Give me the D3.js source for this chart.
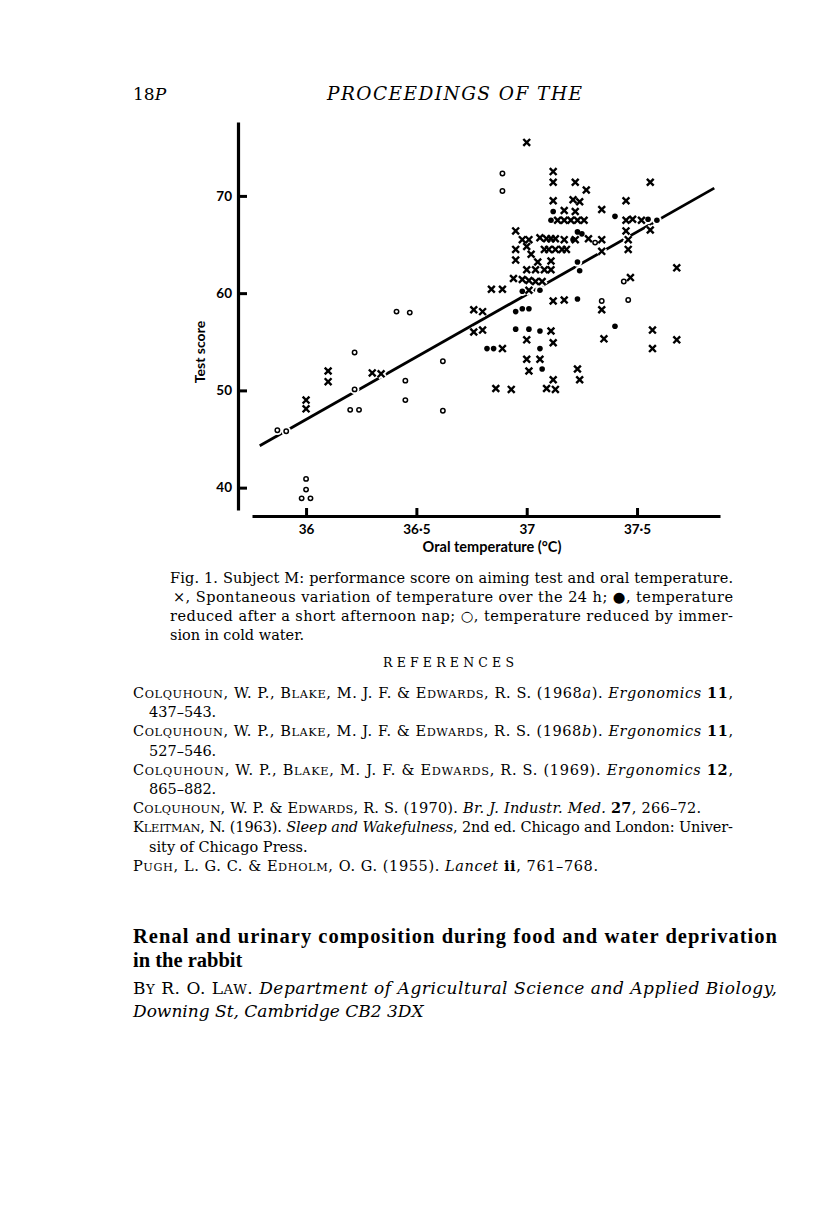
<!DOCTYPE html>
<html>
<head>
<meta charset="utf-8">
<script src="https://cdn.jsdelivr.net/npm/d3@7"></script>
<style>
  body { margin: 0; background: #fff; }
</style>
</head>
<body>
<div id="page"></div>
<script>
"use strict";
// spontaneous variation over the 24 h  (x)
const spontaneous = [
  [36.00, 49.0], [36.00, 48.1], [36.10, 52.0], [36.10, 50.9], [36.30, 51.8], [36.34, 51.7],
  [36.76, 58.3], [36.80, 58.1], [36.76, 56.0], [36.80, 56.2],
  [36.89, 54.3], [37.00, 55.2], [37.11, 56.1], [37.12, 54.9], [37.00, 53.2], [37.06, 53.2], [37.01, 52.0],
  [36.86, 50.2], [36.93, 50.1], [37.09, 50.2], [37.13, 50.1], [37.12, 51.1], [37.23, 52.2], [37.24, 51.1],
  [37.34, 58.3], [37.35, 55.3], [37.57, 56.2], [37.57, 54.3], [37.68, 55.2], [37.68, 62.6], [37.47, 61.6],
  [37.12, 59.2], [37.17, 59.3], [37.01, 60.3], [36.84, 60.4], [36.89, 60.4],
  [36.94, 61.5], [36.98, 61.4], [37.01, 61.3], [37.04, 61.2], [37.07, 61.2],
  [37.00, 62.4], [37.04, 62.4], [37.08, 62.4], [37.11, 62.4],
  [36.95, 63.4], [37.05, 63.2], [37.11, 63.3],
  [36.95, 64.5], [37.00, 64.8], [37.02, 64.0], [37.08, 64.5], [37.10, 64.5], [37.13, 64.5],
  [37.16, 64.5], [37.18, 64.5], [37.34, 64.3], [37.46, 64.5],
  [36.95, 66.4], [36.98, 65.5], [37.01, 65.5], [37.06, 65.7], [37.09, 65.6], [37.11, 65.6],
  [37.13, 65.6], [37.17, 65.5], [37.22, 65.5], [37.28, 65.6], [37.34, 65.5], [37.46, 65.5],
  [37.14, 67.5], [37.17, 67.5], [37.20, 67.5], [37.23, 67.5], [37.26, 67.5],
  [37.17, 68.5], [37.22, 68.4],
  [37.12, 69.5], [37.21, 69.6], [37.24, 69.4],
  [37.12, 72.5], [37.12, 71.4], [37.22, 71.4], [37.27, 70.6],
  [37.00, 75.5], [37.56, 71.4], [37.34, 68.6], [37.45, 69.5],
  [37.45, 67.5], [37.48, 67.6], [37.52, 67.5],
  [37.45, 66.4], [37.56, 66.5]
];
// reduced after afternoon nap  (filled)
const nap = [
  [36.95, 58.1], [36.98, 58.4], [37.01, 58.4], [36.95, 56.3], [37.01, 56.3], [37.06, 56.1],
  [36.82, 54.3], [36.85, 54.3], [37.06, 54.3], [37.07, 52.2], [36.98, 60.2], [37.06, 60.3],
  [37.23, 59.4], [37.40, 56.6], [37.23, 63.2], [37.24, 62.3], [37.21, 65.5], [37.23, 66.3],
  [37.25, 66.1], [37.12, 68.4], [37.11, 67.5], [37.40, 67.9], [37.55, 67.6], [37.59, 67.5]
];
// reduced by immersion in cold water  (open)
const immersion = [
  [35.87, 45.9], [35.91, 45.8], [36.00, 40.9], [36.00, 39.8], [35.98, 38.9], [36.02, 38.9],
  [36.22, 53.9], [36.22, 50.1], [36.20, 48.0], [36.24, 48.0], [36.41, 58.1], [36.47, 58.0],
  [36.45, 51.0], [36.45, 49.0], [36.62, 53.0], [36.62, 47.9], [36.89, 72.3], [36.89, 70.5],
  [37.31, 65.2], [37.44, 61.2], [37.34, 59.2], [37.46, 59.3]
];
const fitLine = [[35.79, 44.3], [37.85, 70.8]];

const xTicks = [36, 36.5, 37, 37.5];
const xTickLabels = ["36", "36·5", "37", "37·5"];
const yTicks = [40, 50, 60, 70];

const width = 816;
const height = 1212;

const svg = d3.select("#page").append("svg")
  .attr("width", width)
  .attr("height", height)
  .style("background", "#fff");

const x = d3.scaleLinear().domain([35.755, 37.876]).range([252, 720]);
const y = d3.scaleLinear().domain([37.7, 77.6]).range([510, 122]);

const axisFont = "Lato, 'DejaVu Sans', sans-serif";

// axes
const gx = svg.append("g")
  .attr("transform", "translate(0,516)")
  .call(d3.axisBottom(x).tickValues(xTicks).tickFormat((d, i) => xTickLabels[i])
    .tickSizeInner(-8).tickSizeOuter(0).tickPadding(8));
const gy = svg.append("g")
  .attr("transform", "translate(238,0)")
  .call(d3.axisLeft(y).tickValues(yTicks).tickFormat(d3.format("d"))
    .tickSizeInner(-9).tickSizeOuter(0).tickPadding(6));

[gx, gy].forEach(g => {
  g.select(".domain").attr("stroke", "#000").attr("stroke-width", 3.2);
  g.selectAll(".tick line").attr("stroke", "#000").attr("stroke-width", 3);
  g.selectAll(".tick text")
    .attr("fill", "#000")
    .style("font-family", axisFont)
    .style("font-weight", "bold")
    .style("font-size", "13.5px");
});

svg.append("text")
  .attr("transform", "translate(205,352) rotate(-90)")
  .attr("text-anchor", "middle")
  .style("font-family", axisFont)
  .style("font-weight", "bold")
  .style("font-size", "14px")
  .text("Test score");

svg.append("text")
  .attr("x", 492).attr("y", 552)
  .attr("text-anchor", "middle")
  .style("font-family", axisFont)
  .style("font-weight", "bold")
  .style("font-size", "14.5px")
  .text("Oral temperature (°C)");

// regression line
svg.append("path")
  .datum(fitLine)
  .attr("d", d3.line().x(d => x(d[0])).y(d => y(d[1])))
  .attr("stroke", "#000")
  .attr("stroke-width", 2.8)
  .attr("fill", "none");

const crossPath = "M-3.4,-3.4L3.4,3.4M-3.4,3.4L3.4,-3.4";

// white halos so the line is broken under the points
const halo = svg.append("g");
halo.selectAll("path").data(spontaneous).join("path")
  .attr("transform", d => `translate(${x(d[0])},${y(d[1])})`)
  .attr("d", crossPath).attr("stroke", "#fff").attr("stroke-width", 6);
halo.selectAll("circle").data(nap.concat(immersion)).join("circle")
  .attr("cx", d => x(d[0])).attr("cy", d => y(d[1])).attr("r", 4.8)
  .attr("fill", "#fff");

svg.append("g").selectAll("path").data(spontaneous).join("path")
  .attr("transform", d => `translate(${x(d[0])},${y(d[1])})`)
  .attr("d", crossPath)
  .attr("stroke", "#000")
  .attr("stroke-width", 2.4);

svg.append("g").selectAll("circle").data(nap).join("circle")
  .attr("cx", d => x(d[0])).attr("cy", d => y(d[1]))
  .attr("r", 2.8)
  .attr("fill", "#000");

svg.append("g").selectAll("circle").data(immersion).join("circle")
  .attr("cx", d => x(d[0])).attr("cy", d => y(d[1]))
  .attr("r", 2.2)
  .attr("fill", "#fff")
  .attr("stroke", "#000")
  .attr("stroke-width", 1.5);

// ---- page text ----
const serif = "'DejaVu Serif', serif";

// small caps: first letter full size, rest smaller capitals
const sc = w => [{ t: w[0] }, { t: w.slice(1).toUpperCase(), size: 0.78 }];
const it = t => ({ t: t, style: "italic" });
const bd = t => ({ t: t, weight: "bold" });

function textLine(px, py, segs, opts) {
  const el = svg.append("text")
    .attr("x", px).attr("y", py)
    .style("font-family", opts.family || serif)
    .style("font-size", opts.size + "px")
    .style("font-style", opts.style || "normal")
    .style("font-weight", opts.weight || "normal");
  if (opts.length) el.attr("textLength", opts.length).attr("lengthAdjust", "spacing");
  if (opts.anchor) el.attr("text-anchor", opts.anchor);
  segs.flat().forEach(s => {
    const seg = typeof s === "string" ? { t: s } : s;
    const sp = el.append("tspan").text(seg.t);
    if (seg.size) sp.style("font-size", (opts.size * seg.size) + "px");
    if (seg.style) sp.style("font-style", seg.style);
    if (seg.weight) sp.style("font-weight", seg.weight);
  });
  return el;
}

textLine(133, 100, ["18", it("P")], { size: 17 });
textLine(327, 100, ["PROCEEDINGS OF THE"], { size: 18.5, style: "italic", length: 255 });

const captionLines = [
  "Fig. 1. Subject M: performance score on aiming test and oral temperature.",
  "×, Spontaneous variation of temperature over the 24 h; ●, temperature",
  "reduced after a short afternoon nap; ○, temperature reduced by immer-",
  "sion in cold water."
];
captionLines.forEach((l, i) => {
  textLine(i === 1 ? 173 : 170, 583 + i * 19, [l], { size: 14.5, length: i < 3 ? (i === 1 ? 560 : 563) : null });
});

textLine(383, 667, ["REFERENCES"], { size: 12.5, length: 131 });

const refLines = [
  { x: 133, s: [sc("Colquhoun"), ", W. P., ", sc("Blake"), ", M. J. F. & ", sc("Edwards"), ", R. S. (1968", it("a"), "). ", it("Ergonomics"), " ", bd("11"), ","], len: 600 },
  { x: 149, s: ["437–543."] },
  { x: 133, s: [sc("Colquhoun"), ", W. P., ", sc("Blake"), ", M. J. F. & ", sc("Edwards"), ", R. S. (1968", it("b"), "). ", it("Ergonomics"), " ", bd("11"), ","], len: 600 },
  { x: 149, s: ["527–546."] },
  { x: 133, s: [sc("Colquhoun"), ", W. P., ", sc("Blake"), ", M. J. F. & ", sc("Edwards"), ", R. S. (1969). ", it("Ergonomics"), " ", bd("12"), ","], len: 600 },
  { x: 149, s: ["865–882."] },
  { x: 133, s: [sc("Colquhoun"), ", W. P. & ", sc("Edwards"), ", R. S. (1970). ", it("Br. J. Industr. Med."), " ", bd("27"), ", 266–72."], len: 568 },
  { x: 133, s: [sc("Kleitman"), ", N. (1963). ", it("Sleep and Wakefulness"), ", 2nd ed. Chicago and London: Univer-"], len: 600 },
  { x: 149, s: ["sity of Chicago Press."] },
  { x: 133, s: [sc("Pugh"), ", L. G. C. & ", sc("Edholm"), ", O. G. (1955). ", it("Lancet"), " ", bd("ii"), ", 761–768."], len: 465 }
];
refLines.forEach((r, i) => {
  textLine(r.x, 698 + i * 19.2, r.s, { size: 14.5, length: r.len });
});

textLine(133, 943, ["Renal and urinary composition during food and water deprivation"],
  { size: 20.5, family: "'Liberation Serif', serif", weight: "bold", length: 644 });
textLine(133, 967, ["in the rabbit"],
  { size: 20.5, family: "'Liberation Serif', serif", weight: "bold" });

textLine(133, 994, [sc("By"), " R. O. ", sc("Law"), ". ", it("Department of Agricultural Science and Applied Biology,")],
  { size: 17, length: 644 });
textLine(133, 1017, [it("Downing St, Cambridge CB2 3DX")], { size: 17 });
</script>
</body>
</html>
